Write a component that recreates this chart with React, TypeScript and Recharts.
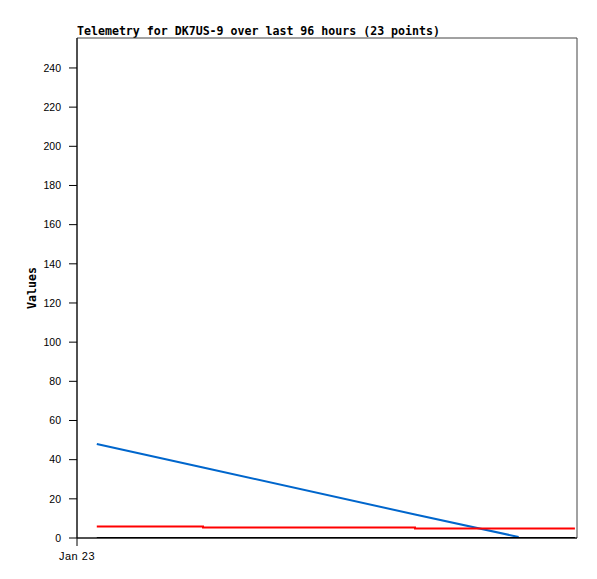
import { LineChart, Line, XAxis, YAxis, ReferenceArea, Label } from 'recharts';

// hours since Jan 23 00:00 (plot spans 96 h)
const hours = [3.8, 24.2, 64.9, 84.8, 95.6];
const blueValues = [48, 36, 12, 0.5, null];
const redValues = [5.9, 5.4, 4.8, 4.8, 4.8];
const blackValues = [0, 0, 0, 0, 0];

const yTicks = [0, 20, 40, 60, 80, 100, 120, 140, 160, 180, 200, 220, 240];
const xTicks = [0];
const xTickLabels = ['Jan 23'];

const X_MAX = 96;
const Y_MAX = 255.3;

const data = hours.map((h, i) => ({
  t: h,
  blue: blueValues[i],
  red: redValues[i],
  black: blackValues[i],
}));

const sans = '"Liberation Sans", Arial, sans-serif';
const monoBold = '"DejaVu Sans Mono", monospace';

export default function App() {
  return (
    <div style={{ position: 'relative', width: 597, height: 579, background: '#fff' }}>
      <style>{'body{margin:0}'}</style>
      <div
        style={{
          position: 'absolute',
          left: 77,
          top: 25,
          fontFamily: monoBold,
          fontWeight: 'bold',
          fontSize: 11.6,
          lineHeight: '12px',
          whiteSpace: 'pre',
          color: '#000',
        }}
      >
        Telemetry for DK7US-9 over last 96 hours (23 points)
      </div>
      <LineChart width={597} height={579} data={data} margin={{ top: 38, right: 20, bottom: 0, left: 0 }}>
        <ReferenceArea x1={0} x2={X_MAX} y1={0} y2={Y_MAX} fill="none" stroke="#444" strokeWidth={1} ifOverflow="visible" />
        <XAxis
          dataKey="t"
          type="number"
          domain={[0, X_MAX]}
          ticks={xTicks}
          tickFormatter={(v: number) => xTickLabels[xTicks.indexOf(v)] ?? ''}
          height={41}
          tickSize={8}
          tickMargin={6}
          stroke="#000"
          tick={{ fontSize: 11, fill: '#000', fontFamily: sans, letterSpacing: 0.5 }}
          allowDataOverflow
        />
        <YAxis
          type="number"
          domain={[0, Y_MAX]}
          ticks={yTicks}
          width={77}
          tickSize={8}
          tickMargin={8}
          stroke="#000"
          tick={{ fontSize: 10.5, fill: '#000', fontFamily: sans }}
          allowDataOverflow
        >
          <Label
            value="Values"
            angle={-90}
            position="center"
            dx={-7}
            style={{ fontFamily: monoBold, fontWeight: 'bold', fontSize: 11.6, fill: '#000' }}
          />
        </YAxis>
        <Line dataKey="blue" type="linear" stroke="#0066cc" strokeWidth={2} dot={false} isAnimationActive={false} connectNulls={false} />
        <Line dataKey="red" type="stepAfter" stroke="#ff0000" strokeWidth={2} dot={false} isAnimationActive={false} />
        <Line dataKey="black" type="linear" stroke="#000" strokeWidth={2} dot={false} isAnimationActive={false} />
      </LineChart>
    </div>
  );
}
